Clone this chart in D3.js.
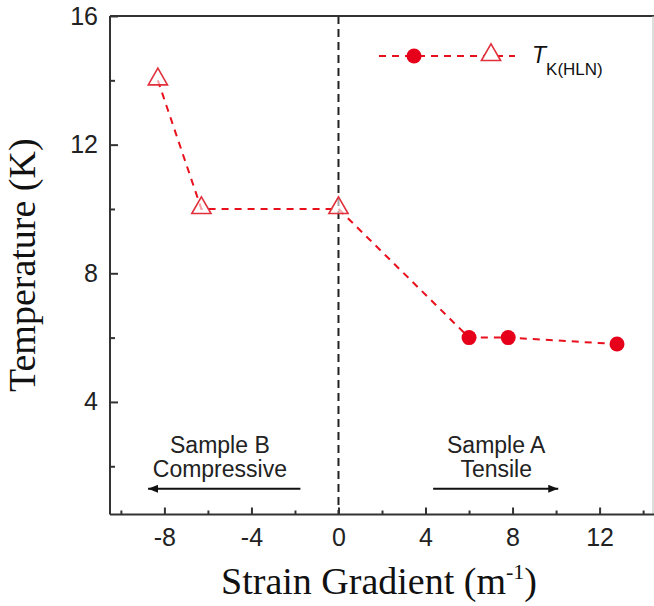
<!DOCTYPE html>
<html><head><meta charset="utf-8">
<script src="https://cdn.jsdelivr.net/npm/d3@7"></script>
<style>body{margin:0;background:#fff}svg{display:block}</style>
</head><body>
<svg id="c" width="654" height="606"></svg>
<script>
// Data
const compX = [-8.3, -6.3, 0];        // Sample B (open triangles)
const compY = [14, 10, 10];
const tensX = [6, 7.8, 12.8];         // Sample A (filled circles)
const tensY = [6, 6, 5.8];
const xMajor = [-8, -4, 0, 4, 8, 12];
const xMinor = [-10, -6, -2, 2, 6, 10, 14];
const yMajor = [4, 8, 12, 16];
const yMinor = [2, 6, 10, 14];
const annLabels = [["Sample B", "Compressive"], ["Sample A", "Tensile"]];
const annCenters = [-5.45, 7.25];
const arrows = [[-1.75, -8.75], [4.35, 10.1]];
const arrowY = 1.3;

const svg = d3.select("#c");
const L = 110, R = 654, T = 16, B = 514.5;
const x = d3.scaleLinear().domain([-10.5, 14.5]).range([L, R]);
const y = d3.scaleLinear().domain([0.5, 16]).range([B, T]);
const axisCol = "#333";
const red = "#e8101c";

svg.append("defs").append("marker").attr("id", "ah")
  .attr("viewBox", "0 0 10 8").attr("refX", 10).attr("refY", 4)
  .attr("markerWidth", 10).attr("markerHeight", 8).attr("markerUnits", "userSpaceOnUse")
  .attr("orient", "auto")
  .append("path").attr("d", "M0,0 L10,4 L0,8 Z").attr("fill", "#111");

// vertical dashed line at x=0
svg.append("line").attr("x1", x(0)).attr("x2", x(0)).attr("y1", T).attr("y2", B)
  .attr("stroke", "#222").attr("stroke-width", 2).attr("stroke-dasharray", "8,5");

// frame top and right
svg.append("line").attr("x1", L).attr("x2", R).attr("y1", T).attr("y2", T)
  .attr("stroke", axisCol).attr("stroke-width", 2);
svg.append("line").attr("x1", 653).attr("x2", 653).attr("y1", T).attr("y2", B)
  .attr("stroke", "#bbb").attr("stroke-width", 1);

// axes via d3
const fmt = d => String(d);
const xAxis = d3.axisBottom(x).tickValues(xMajor).tickSize(-7).tickPadding(14).tickFormat(fmt);
const gx = svg.append("g").attr("transform", `translate(0,${B})`).call(xAxis);
gx.select(".domain").attr("d", `M${L},0H${R}`);
const xMinorAxis = d3.axisBottom(x).tickValues(xMinor).tickSize(-4).tickFormat("");
const gxm = svg.append("g").attr("transform", `translate(0,${B})`).call(xMinorAxis);
gxm.select(".domain").remove();

const yAxis = d3.axisLeft(y).tickValues(yMajor).tickSize(-8).tickPadding(12).tickFormat(fmt);
const gy = svg.append("g").attr("transform", `translate(${L},0)`).call(yAxis);
gy.select(".domain").attr("d", `M0,${T}V${B}`);
const yMinorAxis = d3.axisLeft(y).tickValues(yMinor).tickSize(-5).tickFormat("");
const gym = svg.append("g").attr("transform", `translate(${L},0)`).call(yMinorAxis);
gym.select(".domain").remove();

svg.selectAll(".domain").attr("stroke", axisCol).attr("stroke-width", 2);
svg.selectAll(".tick line").attr("stroke", axisCol).attr("stroke-width", 2);
svg.selectAll(".tick text").attr("font-family", "Liberation Sans, Arial, sans-serif")
  .attr("font-size", 25).attr("fill", "#222");

// connecting dashed line
const allPts = compX.map((v, i) => [v, compY[i]]).concat(tensX.map((v, i) => [v, tensY[i]]));
svg.append("path").datum(allPts)
  .attr("d", d3.line().x(d => x(d[0])).y(d => y(d[1])))
  .attr("fill", "none").attr("stroke", red).attr("stroke-width", 2)
  .attr("stroke-dasharray", "7,6");

// triangles
const tri = d3.symbol().type(d3.symbolTriangle).size(160);
svg.selectAll(".tri").data(compX).join("path")
  .attr("transform", (d, i) => `translate(${x(d)},${y(compY[i]) - 1})`)
  .attr("d", tri).attr("fill", "#fff").attr("fill-opacity", 0.6)
  .attr("stroke", "#e0303c").attr("stroke-width", 1.6);

// circles
svg.selectAll(".dot").data(tensX).join("circle")
  .attr("cx", d => x(d)).attr("cy", (d, i) => y(tensY[i])).attr("r", 7.5)
  .attr("fill", "#e6001a");

// annotations
annLabels.forEach((lines, k) => {
  lines.forEach((t, j) => {
    svg.append("text").attr("x", x(annCenters[k])).attr("y", 453 + j * 24)
      .attr("text-anchor", "middle").attr("font-family", "Liberation Sans, Arial, sans-serif")
      .attr("font-size", 23).attr("fill", "#222").text(t);
  });
});
arrows.forEach(a => {
  svg.append("line").attr("x1", x(a[0])).attr("x2", x(a[1]))
    .attr("y1", y(arrowY)).attr("y2", y(arrowY))
    .attr("stroke", "#111").attr("stroke-width", 2.2).attr("marker-end", "url(#ah)");
});

// legend
const lg = svg.append("g");
lg.append("line").attr("x1", 379).attr("x2", 515).attr("y1", 56).attr("y2", 56)
  .attr("stroke", red).attr("stroke-width", 2).attr("stroke-dasharray", "7,6");
lg.append("circle").attr("cx", 414).attr("cy", 56).attr("r", 7.5).attr("fill", "#e6001a");
lg.append("path").attr("transform", "translate(491,55)").attr("d", tri)
  .attr("fill", "#fff").attr("stroke", "#e0303c").attr("stroke-width", 1.6);
const lt = lg.append("text").attr("x", 532).attr("y", 63)
  .attr("font-family", "Liberation Sans, Arial, sans-serif").attr("fill", "#111");
lt.append("tspan").attr("font-style", "italic").attr("font-size", 23).text("T");
lt.append("tspan").attr("font-size", 17).attr("dy", 12).text("K(HLN)");

// axis titles
svg.append("text").attr("transform", `translate(35,${(T + B) / 2}) rotate(-90)`)
  .attr("text-anchor", "middle").attr("font-family", "Liberation Serif, Times New Roman, serif")
  .attr("font-size", 38).attr("fill", "#111").text("Temperature (K)");
const xt = svg.append("text").attr("x", 379).attr("y", 594)
  .attr("text-anchor", "middle").attr("font-family", "Liberation Serif, Times New Roman, serif")
  .attr("font-size", 38).attr("fill", "#111");
xt.append("tspan").text("Strain Gradient (m");
xt.append("tspan").attr("font-size", 22).attr("dy", -15).text("-1");
xt.append("tspan").attr("dy", 15).text(")");
</script>
</body></html>
